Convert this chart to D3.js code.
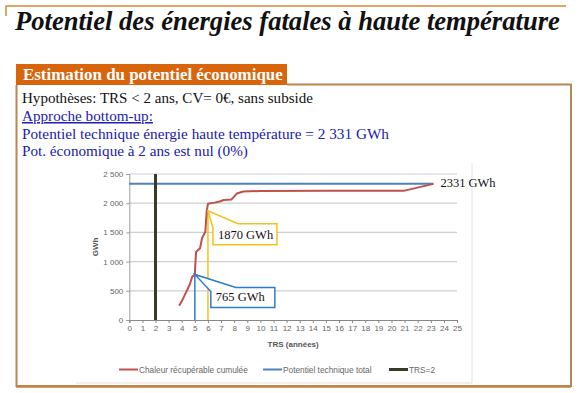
<!DOCTYPE html>
<html>
<head>
<meta charset="utf-8">
<script src="https://cdn.jsdelivr.net/npm/d3@7"></script>
<style>
  body { margin: 0; background: #fff; }
  svg { display: block; }
</style>
</head>
<body>
<script>
// cumulative recoverable heat (TRS in years, GWh)
const trs = [3.8, 4.0, 4.3, 4.6, 4.8, 5.0, 5.05, 5.1, 5.25, 5.4, 5.55, 5.8, 5.9, 6.0, 6.5, 6.9, 7.2, 7.8, 8.2, 8.7, 10, 15, 21, 23.2];
const gwh = [245, 320, 460, 600, 740, 780, 1000, 1170, 1200, 1230, 1400, 1510, 1850, 1990, 2010, 2030, 2055, 2065, 2165, 2200, 2210, 2212, 2215, 2331];
const potentielTotal = 2331;
const potentielFin = 23.2;
const trsLimit = 2;
const yTicks = [0, 500, 1000, 1500, 2000, 2500];
const xTicks = d3.range(0, 26);
const callouts = [
  { x: 6, y: 1870, label: "1870 GWh", color: "#f2c21b" },
  { x: 5, y: 780, label: "765 GWh", color: "#2e7dc9" }
];
const legendItems = [
  { label: "Chaleur récupérable cumulée", color: "#c0504d", w: 2 },
  { label: "Potentiel technique total", color: "#4f81bd", w: 2 },
  { label: "TRS=2", color: "#3a3a2a", w: 3 }
];
const bodyLines = [
  { text: "Hypothèses: TRS < 2 ans, CV= 0€, sans subside", color: "#111", underline: false },
  { text: "Approche bottom-up:", color: "#2020b0", underline: true },
  { text: "Potentiel technique énergie haute température = 2 331 GWh", color: "#2020b0", underline: false },
  { text: "Pot. économique à 2 ans est nul (0%)", color: "#2020b0", underline: false }
];

const W = 580, H = 393;
const svg = d3.select("body").append("svg").attr("width", W).attr("height", H);

const serif = "'Liberation Serif', 'DejaVu Serif', serif";
const sans = "'Liberation Sans', 'DejaVu Sans', sans-serif";

// shrink/grow a text to fit a given width
function fit(t, width) {
  const fs = parseFloat(t.attr("font-size"));
  const w = t.node().getComputedTextLength();
  t.attr("font-size", (fs * width / w).toFixed(2));
}

// frame
svg.append("path")
  .attr("d", "M6,16 V6 H566")
  .attr("fill", "none").attr("stroke", "#d68a3c").attr("stroke-width", 1.5);

let title = svg.append("text")
  .attr("x", 15).attr("y", 30)
  .attr("font-family", serif).attr("font-style", "italic").attr("font-weight", "bold")
  .attr("font-size", 22).attr("fill", "#111")
  .text("Potentiel des énergies fatales à haute température");
fit(title, 545);

svg.append("path")
  .attr("d", "M287,84.5 H571 V386 H16.5 V85")
  .attr("fill", "none").attr("stroke", "#b98550").attr("stroke-width", 2);
svg.append("line").attr("x1", 16).attr("x2", 571).attr("y1", 387.5).attr("y2", 387.5)
  .attr("stroke", "#e0a060").attr("stroke-width", 1);

svg.append("rect").attr("x", 16).attr("y", 64).attr("width", 271).attr("height", 21)
  .attr("fill", "#d8650c");
let boxTitle = svg.append("text")
  .attr("x", 23).attr("y", 80)
  .attr("font-family", serif).attr("font-weight", "bold").attr("font-size", 15)
  .attr("fill", "#fff").text("Estimation du potentiel économique");
fit(boxTitle, 260);

const lineY = [103, 121, 139, 156];
const lineW = [291, 131, 367, 226];
bodyLines.forEach((l, i) => {
  const t = svg.append("text")
    .attr("x", 22).attr("y", lineY[i])
    .attr("font-family", serif).attr("font-size", 14)
    .attr("fill", l.color)
    .attr("text-decoration", l.underline ? "underline" : null)
    .text(l.text);
  fit(t, lineW[i]);
});

// chart picture frame
svg.append("path")
  .attr("d", "M472,163 V383 H76")
  .attr("fill", "none").attr("stroke", "#e2e2e2").attr("stroke-width", 1);

const x = d3.scaleLinear().domain([0, 25]).range([129.3, 457]);
const y = d3.scaleLinear().domain([0, 2500]).range([320, 174]);

const g = svg.append("g");

// gridlines
g.selectAll(".grid").data(yTicks.filter(d => d > 0)).enter().append("line")
  .attr("x1", x(0)).attr("x2", x(25))
  .attr("y1", d => y(d)).attr("y2", d => y(d))
  .attr("stroke", d => d === 2500 ? "#d4c8e0" : "#cfcfcf").attr("stroke-width", 1.2);

// y axis
const yAxis = g.append("g").attr("transform", `translate(${x(0)},0)`)
  .call(d3.axisLeft(y).tickValues(yTicks).tickSize(3)
    .tickFormat(d => d3.format(",")(d).replace(/,/g, " ")));
yAxis.select(".domain").attr("stroke", "#9a9a9a");
yAxis.selectAll(".tick line").attr("stroke", "#9a9a9a");
yAxis.selectAll("text").attr("font-family", sans).attr("font-size", 8).attr("fill", "#666");

// x axis
const xAxis = g.append("g").attr("transform", `translate(0,${y(0)})`)
  .call(d3.axisBottom(x).tickValues(xTicks).tickSize(3).tickFormat(d3.format("d")));
xAxis.select(".domain").attr("stroke", "#888");
xAxis.selectAll(".tick line").attr("stroke", "#888");
xAxis.selectAll("text").attr("font-family", sans).attr("font-size", 8).attr("fill", "#666").attr("dy", "0.6em");

g.append("text")
  .attr("transform", `translate(98,${y(1250)}) rotate(-90)`)
  .attr("text-anchor", "middle")
  .attr("font-family", sans).attr("font-size", 8).attr("font-weight", "bold").attr("fill", "#555")
  .text("GWh");
g.append("text")
  .attr("x", x(12.5)).attr("y", 347)
  .attr("text-anchor", "middle")
  .attr("font-family", sans).attr("font-size", 8).attr("font-weight", "bold").attr("fill", "#555")
  .text("TRS (années)");

// callout guide lines
callouts.forEach(c => {
  g.append("line")
    .attr("x1", x(c.x)).attr("x2", x(c.x))
    .attr("y1", y(0)).attr("y2", y(c.y))
    .attr("stroke", c.color).attr("stroke-width", 1.5);
});

// blue total potential
g.append("line")
  .attr("x1", x(0)).attr("x2", x(potentielFin))
  .attr("y1", y(potentielTotal)).attr("y2", y(potentielTotal))
  .attr("stroke", "#4f81bd").attr("stroke-width", 2);

// TRS = 2
g.append("line")
  .attr("x1", x(trsLimit)).attr("x2", x(trsLimit))
  .attr("y1", y(0)).attr("y2", y(2500))
  .attr("stroke", "#3a3a2a").attr("stroke-width", 3);

// cumulative curve
const pts = trs.map((t, i) => [t, gwh[i]]);
g.append("path")
  .datum(pts)
  .attr("fill", "none").attr("stroke", "#c0504d").attr("stroke-width", 2)
  .attr("stroke-linejoin", "round")
  .attr("d", d3.line().x(d => x(d[0])).y(d => y(d[1])));

svg.append("text")
  .attr("x", x(potentielFin) + 7).attr("y", y(potentielTotal) + 3)
  .attr("font-family", serif).attr("font-size", 12.5).attr("fill", "#111")
  .text("2331 GWh");

// callout boxes
const boxOff = [{ dx: 5, dy: 13, w: 64, h: 21 }, { dx: 16, dy: 13, w: 64, h: 20 }];
callouts.forEach((c, i) => {
  const tx = x(c.x), ty = y(c.y);
  const o = boxOff[i];
  const bx = tx + o.dx, by = ty + o.dy;
  const p = d3.path();
  p.moveTo(bx, by + 4);
  p.lineTo(tx, ty);
  p.lineTo(bx + 25, by);
  p.lineTo(bx + o.w, by);
  p.lineTo(bx + o.w, by + o.h);
  p.lineTo(bx, by + o.h);
  p.closePath();
  g.append("path").attr("d", p.toString())
    .attr("fill", "#fff").attr("stroke", c.color).attr("stroke-width", 1.5);
  g.append("text")
    .attr("x", bx + 5).attr("y", by + o.h - 6)
    .attr("font-family", serif).attr("font-size", 12.5).attr("fill", "#111")
    .text(c.label);
});

// legend
const legX = [119, 263, 389];
legendItems.forEach((l, i) => {
  g.append("line")
    .attr("x1", legX[i]).attr("x2", legX[i] + 19)
    .attr("y1", 369.5).attr("y2", 369.5)
    .attr("stroke", l.color).attr("stroke-width", l.w);
  g.append("text")
    .attr("x", legX[i] + 20).attr("y", 372.5)
    .attr("font-family", sans).attr("font-size", 8.3).attr("fill", "#666")
    .text(l.label);
});
</script>
</body>
</html>
